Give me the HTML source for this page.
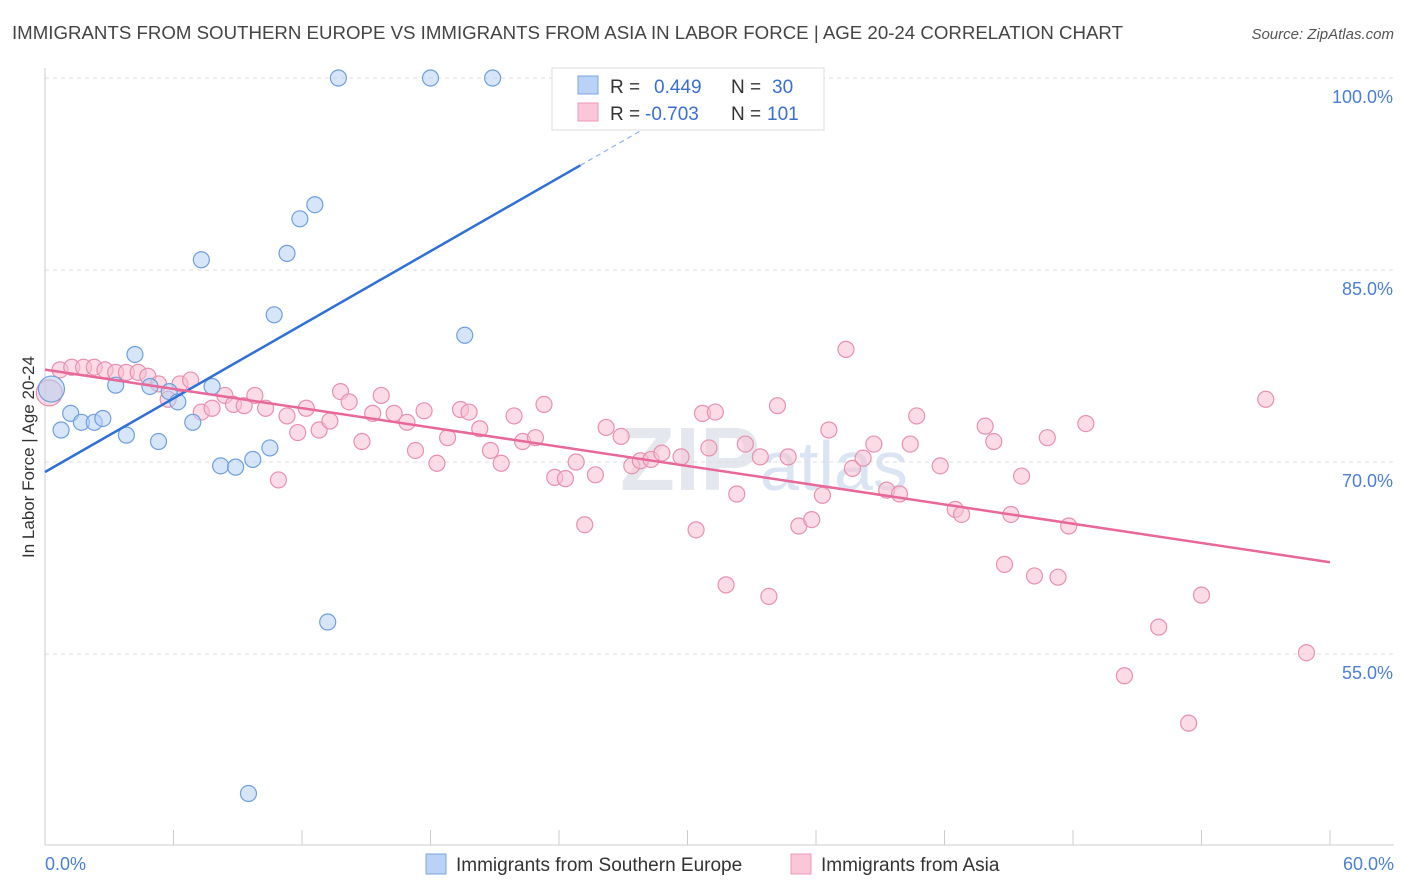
<!DOCTYPE html>
<html><head><meta charset="utf-8"><style>
body{margin:0;background:#fff;font-family:"Liberation Sans",sans-serif;}
svg{display:block}
</style></head><body>
<svg width="1406" height="892">
<text x="12" y="39" font-size="18" fill="#444" textLength="1111" lengthAdjust="spacingAndGlyphs">IMMIGRANTS FROM SOUTHERN EUROPE VS IMMIGRANTS FROM ASIA IN LABOR FORCE | AGE 20-24 CORRELATION CHART</text>
<text x="1394" y="39" font-size="15" fill="#555" text-anchor="end" font-style="italic">Source: ZipAtlas.com</text>
<text x="620" y="490" font-size="90" fill="#e4e8ee" font-weight="bold">ZIP<tspan font-weight="normal" font-size="70" fill="#dbe4f2">atlas</tspan></text>
<g id="grid"></g>
<g id="axes"></g>
<g id="marks"></g>
<text transform="translate(34,457) rotate(-90)" font-size="17" fill="#333" text-anchor="middle">In Labor Force | Age 20-24</text>
<text x="45" y="870" font-size="18" fill="#4a7fd4">0.0%</text>
<text x="1394" y="870" font-size="18" fill="#4a7fd4" text-anchor="end">60.0%</text>
<g>
<rect x="552" y="68" width="272" height="62" fill="#fff" stroke="#ddd"/>
<rect x="578" y="76" width="20" height="18" fill="#b8d3f5" stroke="#7aa6e0"/>
<rect x="578" y="103" width="20" height="18" fill="#f9c7d7" stroke="#ee9ab6"/>
<text x="610" y="93" font-size="19" fill="#333">R = <tspan fill="#3a6fd0" x="654">0.449</tspan><tspan x="731" fill="#333">N = </tspan><tspan x="772" fill="#3a6fd0">30</tspan></text>
<text x="610" y="120" font-size="19" fill="#333">R = <tspan fill="#3a6fd0" x="645">-0.703</tspan><tspan x="731" fill="#333">N = </tspan><tspan x="767" fill="#3a6fd0">101</tspan></text>
</g>
<g>
<rect x="426" y="854" width="20" height="20" fill="#b8d3f5" stroke="#7aa6e0"/>
<text x="456" y="871" font-size="19" fill="#333">Immigrants from Southern Europe</text>
<rect x="791" y="854" width="20" height="20" fill="#f9c7d7" stroke="#ee9ab6"/>
<text x="821" y="871" font-size="19" fill="#333">Immigrants from Asia</text>
</g>
</svg>
<script>
const yTicks=[100,85,70,55];
const xTicks=[0,6,12,18,24,30,36,42,48,54,60];
const blueX=[0.3,0.75,1.2,1.7,2.3,2.7,3.3,3.8,4.2,4.9,5.3,5.8,6.2,6.9,7.3,7.8,8.2,8.9,9.7,10.5,10.7,11.3,11.9,12.6,13.2,13.7,18.0,19.6,20.9,9.5];
const blueY=[75.7,72.5,73.8,73.1,73.1,73.4,76.0,72.1,78.4,75.9,71.6,75.5,74.7,73.1,85.8,75.9,69.7,69.6,70.2,71.1,81.5,86.3,89.0,90.1,57.5,100,100,79.9,100,44.1];
const pinkX=[0.2,0.7,1.25,1.8,2.3,2.8,3.3,3.8,4.35,4.8,5.3,5.75,6.3,6.8,7.3,7.8,8.4,8.8,9.3,9.8,10.3,10.9,11.3,11.8,12.2,12.8,13.3,13.8,14.2,14.8,15.3,15.7,16.3,16.9,17.3,17.7,18.3,18.8,19.4,19.8,20.3,20.8,21.3,21.9,22.3,22.9,23.3,23.8,24.3,24.8,25.2,25.7,26.2,26.9,27.4,27.8,28.3,28.8,29.7,30.4,30.7,31.0,31.3,31.8,32.3,32.7,33.4,33.8,34.2,34.7,35.2,35.8,36.3,36.6,37.4,37.7,38.2,38.7,39.3,39.9,40.4,40.7,41.8,42.5,42.8,43.9,44.3,44.8,45.1,45.6,46.2,46.8,47.3,47.8,48.6,50.4,52.0,53.4,54.0,57.0,58.9];
const pinkY=[75.4,77.2,77.4,77.4,77.4,77.2,77.0,77.0,77.0,76.7,76.1,74.9,76.1,76.4,73.9,74.2,75.2,74.5,74.4,75.2,74.2,68.6,73.6,72.3,74.2,72.5,73.2,75.5,74.7,71.6,73.8,75.2,73.8,73.1,70.9,74.0,69.9,71.9,74.1,73.9,72.6,70.9,69.9,73.6,71.6,71.9,74.5,68.8,68.7,70.0,65.1,69.0,72.7,72.0,69.7,70.1,70.2,70.7,70.4,64.7,73.8,71.1,73.9,60.4,67.5,71.4,70.4,59.5,74.4,70.4,65.0,65.5,67.4,72.5,78.8,69.5,70.3,71.4,67.8,67.5,71.4,73.6,69.7,66.3,65.9,72.8,71.6,62.0,65.9,68.9,61.1,71.9,61.0,65.0,73.0,53.3,57.1,49.6,59.6,74.9,55.1];
const X=v=>45+v/60*1285, Y=v=>78+(100-v)/15*192;
const ns="http://www.w3.org/2000/svg";
function mk(p,t,a){const e=document.createElementNS(ns,t);for(const k in a)e.setAttribute(k,a[k]);document.getElementById(p).appendChild(e);return e;}
yTicks.forEach(t=>{
 const l=mk('grid','line',{x1:45,x2:1394,y1:Y(t),y2:Y(t),stroke:'#ddd','stroke-dasharray':'4,4'});
 
 
 const tx=mk('grid','text',{x:1393,y:Y(t)+25,'font-size':18,fill:'#4a7fd4','text-anchor':'end'});
 tx.textContent=t.toFixed(1)+'%';
 
 
});
const ax=mk('axes','line',{x1:45,x2:1394,y1:845,y2:845,stroke:'#ccc'});


const ay=mk('axes','line',{x1:45,x2:45,y1:68,y2:845,stroke:'#ccc'});


xTicks.forEach(t=>{
 const l=mk('axes','line',{x1:X(t),x2:X(t),y1:830,y2:845,stroke:'#ccc'});
 
 
});
function pts(xs,ys,fill,stroke,name){
 xs.forEach((x,i)=>{
  const big=(i===0);
  const c=mk('marks','circle',{cx:X(x),cy:Y(ys[i]),r:big?13:8,fill:fill,stroke:stroke,'fill-opacity':0.55,'stroke-width':1.2});
  
  
 });
}
pts(pinkX,pinkY,'#f7bfd1','#e890ad','asia-point');
pts(blueX,blueY,'#b5d0f3','#6f9fde','southern-europe-point');
function fit(xs,ys){const n=xs.length;let mx=0,my=0;xs.forEach((x,i)=>{mx+=x;my+=ys[i];});mx/=n;my/=n;let sxy=0,sxx=0;xs.forEach((x,i)=>{sxy+=(x-mx)*(ys[i]-my);sxx+=(x-mx)**2;});const b=sxy/sxx;return [my-b*mx,b];}
const bf=fit(blueX,blueY), pf=fit(pinkX,pinkY);
let l=mk('marks','line',{x1:X(0),y1:Y(bf[0]),x2:X(25),y2:Y(bf[0]+bf[1]*25),stroke:'#2f6fd6','stroke-width':2.5});


l=mk('marks','line',{x1:X(25),y1:Y(bf[0]+bf[1]*25),x2:X(30),y2:Y(bf[0]+bf[1]*30),stroke:'#8fb3ea','stroke-width':1.2,'stroke-dasharray':'5,4'});


l=mk('marks','line',{x1:X(0),y1:Y(pf[0]),x2:X(60),y2:Y(pf[0]+pf[1]*60),stroke:'#e8689a','stroke-width':2.5});


</script>
</body></html>
